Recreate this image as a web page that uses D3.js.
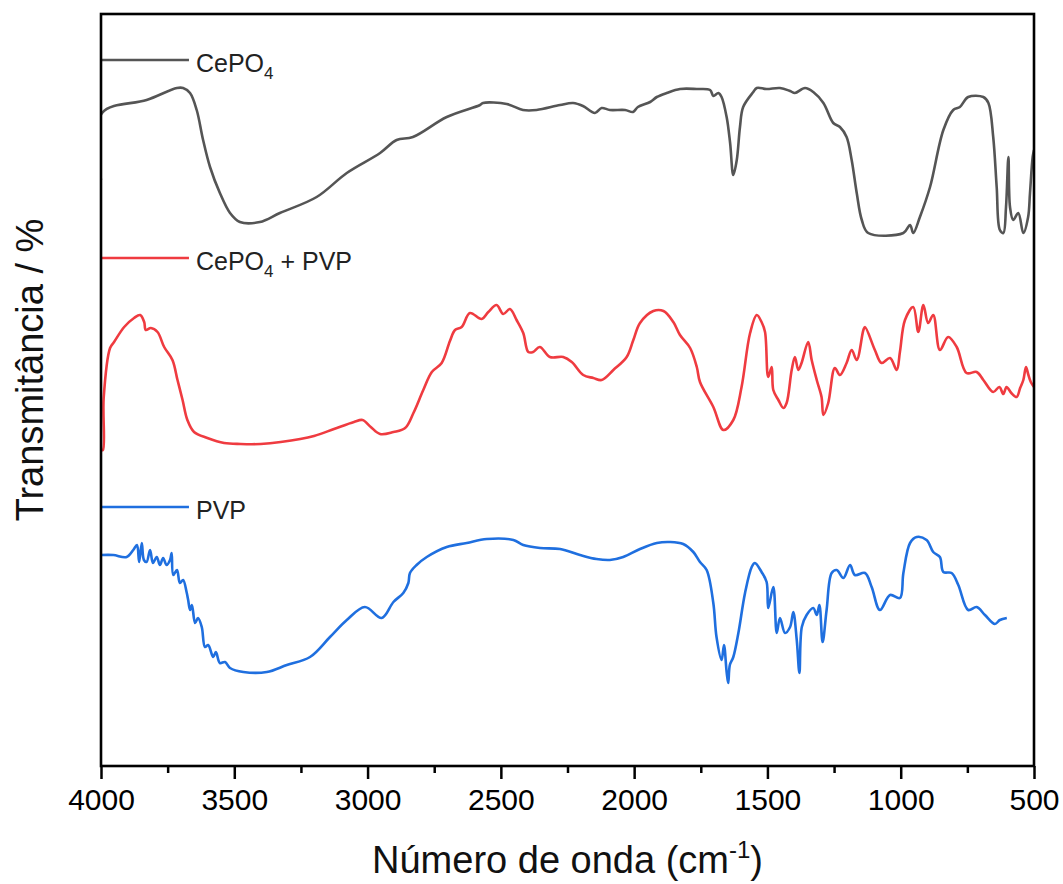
<!DOCTYPE html>
<html>
<head>
<meta charset="utf-8">
<script src="https://cdn.jsdelivr.net/npm/d3@7"></script>
<style>
  html, body { margin: 0; padding: 0; background: #fff; }
  svg { display: block; font-family: "Liberation Sans", Arial, sans-serif; }
</style>
</head>
<body>
<svg id="chart" width="1063" height="884"></svg>
<script>
// FTIR spectra: [wavenumber (cm-1), transmittance (offset, a.u.)]
const cepo4 = [
  [4000, 58.6], [3996, 65.3], [3829, 66.6], [3715, 67.8], [3692, 67.8], [3666, 67.3],
  [3641, 65.6], [3617, 62.6], [3591, 59.9], [3554, 57.3], [3516, 55.3], [3479, 54.4],
  [3404, 54.4], [3329, 55.3], [3191, 56.9], [3078, 59.3], [2953, 61.3], [2891, 62.6],
  [2830, 62.9], [2703, 64.9], [2578, 66.1], [2567, 66.3], [2478, 66.2], [2417, 65.6],
  [2366, 65.6], [2278, 66.1], [2229, 66.3], [2192, 66.0], [2147, 65.3], [2122, 65.8],
  [2091, 65.6], [2034, 65.6], [2004, 65.4], [1986, 65.9], [1940, 66.4], [1915, 66.9],
  [1878, 67.3], [1828, 67.7], [1765, 67.7], [1715, 67.6], [1703, 67.0], [1684, 67.3],
  [1672, 66.9], [1653, 64.9], [1640, 62.3], [1628, 59.1], [1615, 60.6], [1603, 63.9],
  [1591, 65.9], [1553, 67.4], [1540, 67.8], [1503, 67.7], [1453, 67.8], [1415, 67.5],
  [1397, 67.3], [1359, 67.8], [1328, 67.4], [1290, 66.3], [1253, 64.3], [1228, 63.9],
  [1203, 62.9], [1184, 60.6], [1165, 57.3], [1146, 54.6], [1122, 53.3], [990, 53.3],
  [965, 54.1], [953, 53.3], [928, 54.9], [890, 57.9], [840, 63.6], [803, 65.6],
  [778, 65.9], [747, 66.9], [690, 66.9], [671, 66.3], [653, 62.9], [640, 57.9],
  [628, 53.6], [615, 53.3], [605, 55.9], [596, 60.9], [590, 55.9], [578, 54.6],
  [559, 55.3], [540, 53.3], [522, 54.9], [515, 57.3], [505, 60.9], [500, 61.6]
];

const cepo4Pvp = [
  [4000, 31.6], [3993, 31.6], [3990, 36.8], [3966, 41.8], [3951, 42.4], [3913, 43.9],
  [3876, 44.8], [3853, 45.1], [3838, 44.4], [3832, 43.6], [3813, 43.8], [3788, 43.4],
  [3763, 41.9], [3732, 40.6], [3713, 38.6], [3694, 36.6], [3676, 34.6], [3651, 33.4],
  [3601, 32.8], [3538, 32.3], [3476, 32.2], [3401, 32.2], [3326, 32.4], [3201, 33.0],
  [3126, 33.7], [3051, 34.4], [3019, 34.6], [2988, 33.9], [2953, 33.2], [2903, 33.4],
  [2859, 33.8], [2828, 35.3], [2791, 37.6], [2759, 39.4], [2722, 40.3], [2691, 42.5],
  [2672, 43.6], [2647, 43.9], [2616, 45.3], [2572, 44.7], [2547, 45.4], [2516, 46.1],
  [2491, 45.2], [2466, 45.7], [2441, 44.6], [2416, 43.3], [2397, 41.4], [2379, 41.4],
  [2354, 41.9], [2316, 40.9], [2266, 40.9], [2234, 40.4], [2191, 39.1], [2153, 38.8],
  [2122, 38.6], [2078, 39.6], [2028, 40.9], [2003, 42.6], [1978, 44.3], [1928, 45.5],
  [1890, 45.5], [1853, 44.4], [1828, 43.1], [1790, 41.8], [1765, 39.9], [1753, 38.4],
  [1703, 35.9], [1665, 33.6], [1628, 34.6], [1597, 37.9], [1565, 43.3], [1540, 45.1],
  [1522, 44.4], [1509, 43.4], [1497, 38.9], [1484, 39.9], [1478, 37.6], [1459, 36.6],
  [1440, 35.8], [1428, 36.3], [1409, 39.6], [1397, 40.9], [1384, 39.6], [1372, 40.3],
  [1347, 42.4], [1334, 40.6], [1315, 38.6], [1297, 36.9], [1290, 35.1], [1272, 36.3],
  [1247, 39.8], [1228, 39.1], [1203, 40.3], [1184, 41.6], [1165, 40.6], [1140, 43.6],
  [1134, 43.9], [1097, 41.6], [1072, 40.3], [1040, 40.8], [1015, 39.6], [1003, 41.4],
  [984, 44.6], [953, 45.9], [934, 43.4], [915, 46.1], [897, 44.3], [878, 45.1],
  [853, 41.6], [822, 42.9], [790, 41.9], [753, 39.3], [715, 39.4], [690, 38.6],
  [653, 37.4], [630, 37.9], [615, 37.2], [603, 37.9], [585, 37.3], [565, 36.9],
  [552, 37.8], [540, 38.6], [530, 39.9], [522, 39.2], [512, 38.4], [500, 37.9]
];

const pvp = [
  [4000, 21.1], [3954, 21.1], [3904, 20.9], [3879, 21.6], [3865, 22.1], [3857, 20.4],
  [3847, 22.3], [3839, 20.6], [3829, 20.4], [3816, 21.6], [3805, 20.3], [3791, 20.9],
  [3779, 20.1], [3767, 20.8], [3754, 20.1], [3741, 20.6], [3735, 21.3], [3729, 19.1],
  [3715, 19.6], [3704, 18.3], [3692, 18.6], [3679, 17.4], [3673, 16.6], [3666, 15.6],
  [3659, 16.1], [3647, 14.3], [3636, 14.8], [3622, 13.9], [3610, 11.9], [3598, 12.1],
  [3579, 10.9], [3569, 11.4], [3554, 10.3], [3535, 10.4], [3516, 9.8], [3466, 9.4],
  [3378, 9.4], [3303, 10.1], [3216, 10.9], [3141, 12.9], [3078, 14.6], [3010, 15.9],
  [2947, 14.8], [2903, 16.4], [2866, 17.3], [2847, 18.3], [2841, 19.3], [2816, 20.1],
  [2778, 20.9], [2703, 21.9], [2628, 22.3], [2553, 22.7], [2453, 22.6], [2416, 22.1],
  [2353, 21.8], [2278, 21.7], [2203, 21.1], [2141, 20.7], [2091, 20.6], [2041, 20.9],
  [1978, 21.7], [1915, 22.3], [1866, 22.4], [1816, 22.2], [1778, 21.4], [1753, 20.4],
  [1728, 19.6], [1703, 16.3], [1691, 12.9], [1672, 10.6], [1663, 12.1], [1653, 9.4],
  [1647, 8.3], [1641, 10.1], [1628, 10.9], [1609, 13.3], [1584, 17.3], [1559, 19.9],
  [1547, 20.3], [1522, 19.4], [1503, 18.4], [1497, 15.8], [1478, 17.9], [1465, 13.3],
  [1453, 14.8], [1434, 13.3], [1415, 13.9], [1403, 15.4], [1390, 12.6], [1380, 9.3],
  [1371, 13.9], [1353, 15.1], [1328, 15.8], [1315, 15.1], [1305, 16.1], [1293, 12.4],
  [1278, 15.6], [1259, 19.3], [1240, 19.6], [1215, 18.8], [1190, 20.1], [1172, 19.1],
  [1134, 19.3], [1109, 17.9], [1078, 15.6], [1040, 17.1], [1003, 16.8], [990, 19.3],
  [965, 22.3], [940, 22.9], [903, 22.6], [878, 21.4], [853, 20.9], [840, 19.4],
  [809, 19.3], [784, 18.1], [747, 15.6], [715, 15.9], [684, 15.1], [647, 14.2],
  [628, 14.6], [602, 14.8]
];

const seriesNames = ["CePO4", "CePO4 + PVP", "PVP"];
const seriesColors = ["#555555", "#ef3b40", "#1f6fdf"];
// legend anchor levels, in transmittance units
const legendLevels = [70.6, 50.8, 25.9];

const xTicks = [4000, 3500, 3000, 2500, 2000, 1500, 1000, 500];
const xMinorTicks = [3750, 3250, 2750, 2250, 1750, 1250, 750];
const xDomain = [4000, 500];
const yDomain = [0, 75.2];

const margin = { left: 101, right: 29, top: 14, bottom: 118 };
const W = 1063, H = 884;
const innerW = W - margin.left - margin.right;
const innerH = H - margin.top - margin.bottom;

const svg = d3.select("#chart");
const g = svg.append("g").attr("transform", `translate(${margin.left},${margin.top})`);

// keep the spectra inside the frame
svg.append("defs").append("clipPath").attr("id", "plot-clip")
  .append("rect").attr("x", 0).attr("y", 0).attr("width", innerW).attr("height", innerH);

const x = d3.scaleLinear().domain(xDomain).range([0, innerW]);
const y = d3.scaleLinear().domain(yDomain).range([innerH, 0]);

const line = d3.line()
  .x(d => x(d[0]))
  .y(d => y(d[1]))
  .curve(d3.curveCatmullRom.alpha(0.5));

const allSeries = [cepo4, cepo4Pvp, pvp];

// spectra
g.append("g").attr("clip-path", "url(#plot-clip)")
  .selectAll("path.spectrum")
  .data(allSeries)
  .join("path")
  .attr("class", "spectrum")
  .attr("d", line)
  .attr("fill", "none")
  .attr("stroke", (d, i) => seriesColors[i])
  .attr("stroke-width", 2.6)
  .attr("stroke-linejoin", "round");

// in-plot legend: short line from the left axis + label
const legendX0 = x(4000), legendX1 = x(3670);
legendLevels.forEach((lv, i) => {
  g.append("line")
    .attr("x1", legendX0).attr("x2", legendX1)
    .attr("y1", y(lv)).attr("y2", y(lv))
    .attr("stroke", seriesColors[i]).attr("stroke-width", 2.6);
  const t = g.append("text")
    .attr("x", legendX1 + 7)
    .attr("y", y(lv) + 12)
    .attr("font-size", 25)
    .attr("fill", "#222");
  const name = seriesNames[i];
  if (name.startsWith("CePO4")) {
    t.append("tspan").text("CePO");
    t.append("tspan").text("4").attr("font-size", 17).attr("dy", 7);
    const rest = name.slice(5);
    if (rest) t.append("tspan").text(rest).attr("dy", -7);
  } else {
    t.text(name);
  }
});

// bottom axis with labelled major and unlabelled minor ticks
const xAxis = d3.axisBottom(x).tickValues(xTicks).tickSize(13).tickSizeOuter(0).tickPadding(10)
  .tickFormat(d3.format("d"));
const ax = g.append("g").attr("transform", `translate(0,${innerH})`).call(xAxis);
ax.select(".domain").remove();
ax.selectAll(".tick line").attr("stroke", "#000").attr("stroke-width", 2.5);
ax.selectAll(".tick text")
  .attr("font-size", 30).attr("fill", "#000")
  .attr("font-family", "'Liberation Sans', Arial, sans-serif");

const axMinor = d3.axisBottom(x).tickValues(xMinorTicks).tickSize(7).tickFormat("");
const am = g.append("g").attr("transform", `translate(0,${innerH})`).call(axMinor);
am.select(".domain").remove();
am.selectAll(".tick line").attr("stroke", "#000").attr("stroke-width", 2.5);

// frame
g.append("rect")
  .attr("x", 0).attr("y", 0).attr("width", innerW).attr("height", innerH)
  .attr("fill", "none").attr("stroke", "#000").attr("stroke-width", 2.6);

// axis titles
const xt = svg.append("text")
  .attr("x", margin.left + innerW / 2)
  .attr("y", 873)
  .attr("text-anchor", "middle")
  .attr("font-size", 38)
  .attr("fill", "#111");
xt.append("tspan").text("Número de onda (cm");
xt.append("tspan").text("-1").attr("font-size", 24).attr("dy", -15);
xt.append("tspan").text(")").attr("dy", 15);

svg.append("text")
  .attr("transform", `translate(43,${margin.top + innerH / 2 - 20}) rotate(-90)`)
  .attr("text-anchor", "middle")
  .attr("font-size", 38)
  .attr("fill", "#111")
  .text("Transmitância / %");
</script>
</body>
</html>
